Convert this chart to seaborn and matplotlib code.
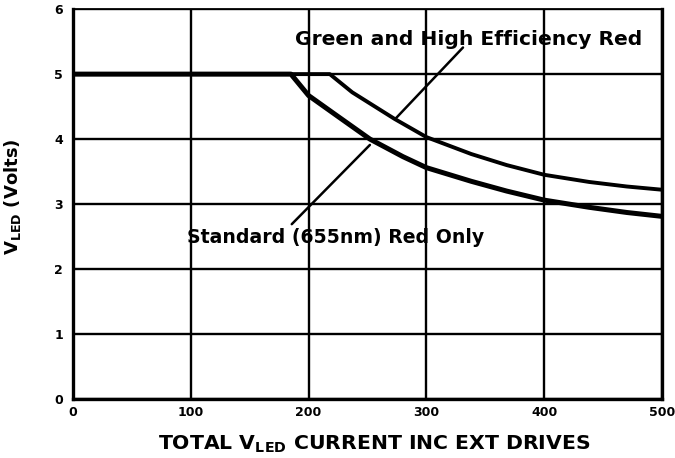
import pandas as pd
import seaborn as sns
import matplotlib.pyplot as plt

# Curve values
x_standard = [0, 185, 200, 224, 252, 280, 300, 338, 368, 400, 438, 470, 500]
v_standard = [5.0, 5.0, 4.67, 4.36, 4.0, 3.73, 3.56, 3.35, 3.2, 3.06, 2.95, 2.87, 2.81]

x_green_her = [0, 218, 237, 273, 300, 338, 368, 400, 438, 470, 500]
v_green_her = [5.0, 5.0, 4.72, 4.31, 4.03, 3.77, 3.6, 3.45, 3.34, 3.27, 3.22]

x_ticks = [0, 100, 200, 300, 400, 500]
y_ticks = [0, 1, 2, 3, 4, 5, 6]

sns.set_style("white")
plt.rcParams['font.family'] = ['DejaVu Sans']
plt.rcParams['font.weight'] = 'bold'
plt.rcParams['text.color'] = 'black'
plt.rcParams['axes.labelcolor'] = 'black'
plt.rcParams['xtick.color'] = 'black'
plt.rcParams['ytick.color'] = 'black'
plt.rcParams['mathtext.fontset'] = 'custom'
plt.rcParams['mathtext.rm'] = 'DejaVu Sans:bold'
plt.rcParams['mathtext.bf'] = 'DejaVu Sans:bold'

df_std = pd.DataFrame({'current': x_standard, 'vled': v_standard})
df_her = pd.DataFrame({'current': x_green_her, 'vled': v_green_her})

fig = plt.figure(figsize=(6.75, 4.58), dpi=100)
ax = fig.add_axes([0.108, 0.129, 0.873, 0.851])

sns.lineplot(data=df_std, x='current', y='vled', color='black', linewidth=3.6, ax=ax)
sns.lineplot(data=df_her, x='current', y='vled', color='black', linewidth=2.8, ax=ax)

ax.set_xlim(0, 500)
ax.set_ylim(0, 6)
ax.set_xticks(x_ticks)
ax.set_yticks(y_ticks)
ax.grid(True, color='black', linewidth=1.7)
ax.tick_params(length=0, labelsize=9, pad=5)
ax.tick_params(axis='y', pad=7)
for lbl in ax.get_xticklabels() + ax.get_yticklabels():
    lbl.set_fontweight('bold')
for side in ['left', 'bottom', 'right']:
    ax.spines[side].set_linewidth(2.4)
    ax.spines[side].set_color('black')
ax.spines['top'].set_linewidth(1.3)
ax.spines['top'].set_color('black')

ax.set_xlabel(r'TOTAL V$_{\mathrm{LED}}$ CURRENT INC EXT DRIVES', fontsize=14.7,
              fontweight='bold')
ax.xaxis.set_label_coords(0.512, -0.088)
ax.set_ylabel(r'V$_{\mathrm{LED}}$ (Volts)', fontsize=13, fontweight='bold')
ax.yaxis.set_label_coords(-0.084, 0.52)

# leader lines
ax.annotate('', xy=(273.5, 4.31), xytext=(331, 5.41),
            arrowprops=dict(arrowstyle='-', color='black', lw=1.8, shrinkA=0, shrinkB=0))
ax.annotate('', xy=(252, 3.91), xytext=(185.7, 2.69),
            arrowprops=dict(arrowstyle='-', color='black', lw=1.8, shrinkA=0, shrinkB=0))

ax.text(188.5, 5.54, 'Green and High Efficiency Red', fontsize=14.6,
        fontweight='bold', va='center', ha='left')
ax.text(96.8, 2.49, 'Standard (655nm) Red Only', fontsize=13.6,
        fontweight='bold', va='center', ha='left')

fig.savefig('out.png', dpi=100)
